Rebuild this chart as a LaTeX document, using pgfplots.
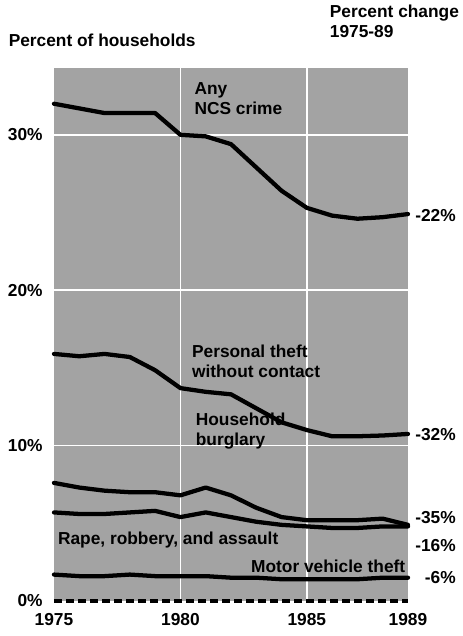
\documentclass[border=0pt]{standalone}
\usepackage{fontspec}
\setmainfont{Liberation Sans}
\usepackage{pgfplots}
\pgfplotsset{compat=1.18}
\tikzset{ser/.style={black, line width=3.2pt, line join=round, line cap=round}}
\begin{document}
\begin{tikzpicture}[font=\fontsize{13}{15}\selectfont\bfseries]
\useasboundingbox (-40.5pt,-26.25pt) rectangle (306.75pt,450.75pt);
\begin{axis}[
  at={(0,0)}, anchor=south west,
  scale only axis, width=265.5pt, height=399.75pt,
  xmin=1975, xmax=1989, ymin=0, ymax=34.3,
  clip=false,
  axis background/.style={fill=black!36},
  axis line style={draw=none},
  major tick length=0pt,
  xtick={1980,1985}, xticklabels={1980,1985},
  extra x ticks={1975,1989}, extra x tick labels={1975,1989},
  extra x tick style={grid=none},
  ytick={10,20,30}, yticklabels={10\%,20\%,30\%},
  extra y ticks={0}, extra y tick labels={0\%},
  extra y tick style={grid=none},
  xmajorgrids, ymajorgrids,
  grid style={white, line width=1.1pt},
  xticklabel style={yshift=-6pt},
  yticklabel style={xshift=-5pt},
  /pgf/number format/assume math mode=true,
]
% Any NCS crime
\addplot[ser] coordinates {(1975,32.0)(1976,31.7)(1977,31.4)(1978,31.4)(1979,31.4)(1980,30.0)(1981,29.9)(1982,29.4)(1983,27.9)(1984,26.4)(1985,25.3)(1986,24.8)(1987,24.6)(1988,24.7)(1989,24.9)};
% Personal theft without contact
\addplot[ser] coordinates {(1975,15.9)(1976,15.75)(1977,15.9)(1978,15.7)(1979,14.85)(1980,13.7)(1981,13.46)(1982,13.3)(1983,12.4)(1984,11.5)(1985,11.0)(1986,10.6)(1987,10.6)(1988,10.65)(1989,10.75)};
% Household burglary
\addplot[ser] coordinates {(1975,7.6)(1976,7.3)(1977,7.1)(1978,7.0)(1979,7.0)(1980,6.8)(1981,7.3)(1982,6.8)(1983,6.0)(1984,5.4)(1985,5.2)(1986,5.2)(1987,5.2)(1988,5.3)(1989,4.9)};
% Rape, robbery, and assault
\addplot[ser] coordinates {(1975,5.7)(1976,5.6)(1977,5.6)(1978,5.7)(1979,5.8)(1980,5.4)(1981,5.7)(1982,5.4)(1983,5.1)(1984,4.9)(1985,4.8)(1986,4.7)(1987,4.7)(1988,4.8)(1989,4.8)};
% Motor vehicle theft
\addplot[ser] coordinates {(1975,1.7)(1976,1.6)(1977,1.6)(1978,1.7)(1979,1.6)(1980,1.6)(1981,1.6)(1982,1.5)(1983,1.5)(1984,1.4)(1985,1.4)(1986,1.4)(1987,1.4)(1988,1.5)(1989,1.5)};
% dashed zero line
\addplot[black, line width=2.4pt, dash pattern=on 6pt off 3pt] coordinates {(1975,0)(1989,0)};

% series labels
\node[anchor=north west, align=left, inner sep=0pt] at (axis cs:1980.55,33.4) {Any\\NCS crime};
\node[anchor=north west, align=left, inner sep=0pt] at (axis cs:1980.45,16.5) {Personal theft\\without contact};
\node[anchor=north west, align=left, inner sep=0pt] at (axis cs:1980.6,12.1) {Household\\burglary};
\node[anchor=west, inner sep=0pt] at (axis cs:1975.15,3.9) {Rape, robbery, and assault};
\node[anchor=east, inner sep=0pt] at (axis cs:1988.9,2.25) {Motor vehicle theft};

% percent change labels
\node[anchor=east, inner sep=0pt] at (axis cs:1990.9,24.8) {-22\%};
\node[anchor=east, inner sep=0pt] at (axis cs:1990.9,10.7) {-32\%};
\node[anchor=east, inner sep=0pt] at (axis cs:1990.9,5.4) {-35\%};
\node[anchor=east, inner sep=0pt] at (axis cs:1990.9,3.6) {-16\%};
\node[anchor=east, inner sep=0pt] at (axis cs:1990.9,1.5) {-6\%};

% headings
\node[anchor=west, inner sep=0pt] at (axis cs:1973.2,36.1) {Percent of households};
\node[anchor=north west, align=left, inner sep=0pt] at (axis cs:1985.9,38.4) {Percent change\\1975-89};
\end{axis}
\end{tikzpicture}
\end{document}
